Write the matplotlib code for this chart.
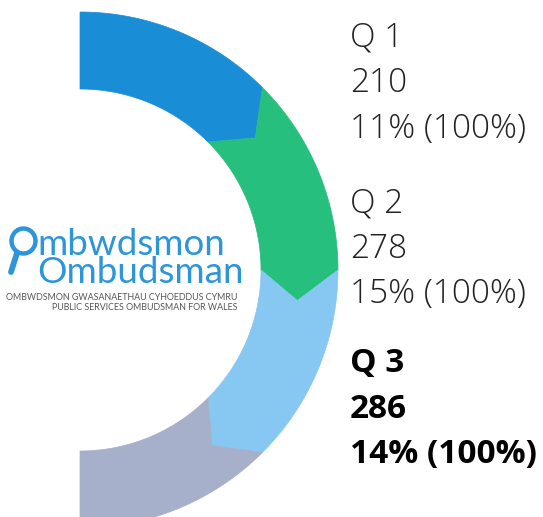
import numpy as np
import matplotlib
matplotlib.use('Agg')
import matplotlib.pyplot as plt
from matplotlib.patches import Polygon, Ellipse

# data
quarters = ['Q 1', 'Q 2', 'Q 3', 'Q 4']
counts = [210, 278, 286]
pct_quarter = [11, 15, 14]
pct_total = [100, 100, 100]
seg_colors = ['#1a8dd7', '#27bf7d', '#86c8f1', '#a7b0cb']
current = 2  # Q 3 is highlighted

W, H = 543, 517
fig = plt.figure(figsize=(W / 100, H / 100), dpi=100)
ax = fig.add_axes([0, 0, 1, 1])
ax.set_xlim(0, W)
ax.set_ylim(H, 0)
ax.axis('off')

cx, cy = 80, 270
r_out, r_in = 258, 181
r_mid = (r_out + r_in) / 2
tip = 8  # chevron offset in degrees


def pt(r, deg):
    a = np.radians(deg)
    return cx + r * np.cos(a), cy - r * np.sin(a)


# ring of equal segments (half donut, top to bottom)
n = len(quarters)
span = 180 / n
for i in range(n):
    a0 = 90 - span * i
    a1 = a0 - span
    outer = [pt(r_out, a) for a in np.linspace(a0, a1, 60)]
    inner = [pt(r_in, a) for a in np.linspace(a1, a0, 60)]
    verts = list(outer)
    if i < n - 1:
        verts.append(pt(r_mid, a1 - tip))
    verts += inner
    if i > 0:
        verts.append(pt(r_mid, a0 - tip))
    ax.add_patch(Polygon(verts, closed=True, facecolor=seg_colors[i],
                         edgecolor=seg_colors[i], lw=0.5))

# logo in the centre
logo_blue = '#2d96d9'
ax.add_patch(Ellipse((23.5, 241), 24, 25, fill=False, ec=logo_blue, lw=3.2))
ax.plot([17, 11], [253, 272], color=logo_blue, lw=4.2, solid_capstyle='round')
ax.text(37, 283, 'mbwdsmon\nOmbudsman', fontsize=26.5, color=logo_blue,
        family='Lato', va='baseline', ha='left', linespacing=0.8)
ax.text(237, 302.5, 'OMBWDSMON GWASANAETHAU CYHOEDDUS CYMRU\n'
        'PUBLIC SERVICES OMBUDSMAN FOR WALES', fontsize=6.4,
        color='#555555', family='Lato', va='center', ha='right',
        multialignment='right', linespacing=1.1)

# labels on the right
tx = 350
base_y = [47, 212, 372]
line_gap = 45.5
for i in range(len(counts)):
    bold = i == current
    lines = [quarters[i], str(counts[i]),
             f'{pct_quarter[i]}% ({pct_total[i]}%)']
    for j, s in enumerate(lines):
        ax.text(tx, base_y[i] + j * line_gap, s, fontsize=24,
                family='Open Sans', fontweight='bold' if bold else 'light',
                color='#000000' if bold else '#222222', va='baseline', ha='left')

fig.savefig('out.png', dpi=100)
